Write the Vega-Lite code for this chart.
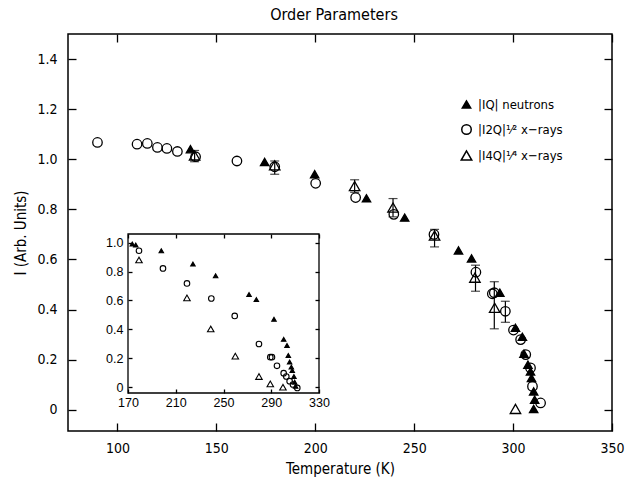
{
  "$schema": "https://vega.github.io/schema/vega-lite/v6.json",
  "width": 544,
  "height": 397,
  "autosize": "none",
  "padding": {"left": 68, "top": 34, "right": 25, "bottom": 53},
  "background": "white",
  "config": {
    "font": "Liberation Sans Narrow, DejaVu Sans Condensed, sans-serif",
    "view": {"stroke": "black", "strokeWidth": 1.5},
    "axis": {"grid": false, "domain": false, "ticks": true, "tickColor": "black", "tickWidth": 1.3, "labelColor": "black", "titleColor": "black", "titleFontWeight": "normal"}
  },
  "title": {"text": "Order Parameters", "fontSize": 16, "fontWeight": "normal", "offset": 10, "color": "black", "dx": -6, "frame": "group"},
  "datasets": {
    "main": [
      {"T": 136.9, "I": 1.04, "s": "n"},
      {"T": 174.4, "I": 0.989, "s": "n"},
      {"T": 199.7, "I": 0.94, "s": "n"},
      {"T": 225.9, "I": 0.844, "s": "n"},
      {"T": 245.2, "I": 0.767, "s": "n"},
      {"T": 272.4, "I": 0.636, "s": "n"},
      {"T": 279.0, "I": 0.604, "s": "n"},
      {"T": 293.3, "I": 0.467, "s": "n"},
      {"T": 301.2, "I": 0.327, "s": "n"},
      {"T": 304.7, "I": 0.291, "s": "n"},
      {"T": 305.5, "I": 0.224, "s": "n"},
      {"T": 307.5, "I": 0.18, "s": "n"},
      {"T": 308.8, "I": 0.153, "s": "n"},
      {"T": 309.3, "I": 0.127, "s": "n"},
      {"T": 310.4, "I": 0.073, "s": "n"},
      {"T": 310.9, "I": 0.04, "s": "n"},
      {"T": 310.4, "I": 0.003, "s": "n"},
      {"T": 89.9, "I": 1.067, "s": "x2"},
      {"T": 109.9, "I": 1.06, "s": "x2"},
      {"T": 115.1, "I": 1.063, "s": "x2"},
      {"T": 120.2, "I": 1.047, "s": "x2"},
      {"T": 125.0, "I": 1.043, "s": "x2"},
      {"T": 130.3, "I": 1.031, "s": "x2"},
      {"T": 139.5, "I": 1.01, "s": "x2"},
      {"T": 160.4, "I": 0.993, "s": "x2"},
      {"T": 179.5, "I": 0.97, "s": "x2"},
      {"T": 200.2, "I": 0.904, "s": "x2"},
      {"T": 220.4, "I": 0.847, "s": "x2"},
      {"T": 239.7, "I": 0.78, "s": "x2"},
      {"T": 260.0, "I": 0.7, "s": "x2"},
      {"T": 281.2, "I": 0.549, "s": "x2"},
      {"T": 289.5, "I": 0.463, "s": "x2"},
      {"T": 290.5, "I": 0.467, "s": "x2"},
      {"T": 296.1, "I": 0.393, "s": "x2"},
      {"T": 300.2, "I": 0.318, "s": "x2"},
      {"T": 303.8, "I": 0.28, "s": "x2"},
      {"T": 306.4, "I": 0.22, "s": "x2"},
      {"T": 308.8, "I": 0.167, "s": "x2"},
      {"T": 309.8, "I": 0.093, "s": "x2"},
      {"T": 313.9, "I": 0.027, "s": "x2"},
      {"T": 139.0, "I": 1.015, "s": "x4"},
      {"T": 179.5, "I": 0.976, "s": "x4"},
      {"T": 219.9, "I": 0.893, "s": "x4"},
      {"T": 239.3, "I": 0.807, "s": "x4"},
      {"T": 260.3, "I": 0.695, "s": "x4"},
      {"T": 280.7, "I": 0.527, "s": "x4"},
      {"T": 290.7, "I": 0.407, "s": "x4"},
      {"T": 301.2, "I": 0.003, "s": "x4"}
    ],
    "err": [
      {"T": 139.0, "lo": 0.99, "hi": 1.035},
      {"T": 179.5, "lo": 0.94, "hi": 0.993},
      {"T": 219.9, "lo": 0.868, "hi": 0.918},
      {"T": 239.3, "lo": 0.77, "hi": 0.843},
      {"T": 260.3, "lo": 0.65, "hi": 0.72},
      {"T": 281.0, "lo": 0.473, "hi": 0.577},
      {"T": 290.5, "lo": 0.323, "hi": 0.511},
      {"T": 296.1, "lo": 0.349, "hi": 0.433}
    ],
    "inset": [
      {"T": 173.6, "I": 0.991, "s": "n"},
      {"T": 176.5, "I": 0.984, "s": "n"},
      {"T": 197.9, "I": 0.944, "s": "n"},
      {"T": 224.4, "I": 0.852, "s": "n"},
      {"T": 243.4, "I": 0.771, "s": "n"},
      {"T": 271.4, "I": 0.641, "s": "n"},
      {"T": 277.5, "I": 0.606, "s": "n"},
      {"T": 292.3, "I": 0.47, "s": "n"},
      {"T": 300.4, "I": 0.331, "s": "n"},
      {"T": 303.2, "I": 0.289, "s": "n"},
      {"T": 304.3, "I": 0.22, "s": "n"},
      {"T": 305.4, "I": 0.174, "s": "n"},
      {"T": 306.8, "I": 0.139, "s": "n"},
      {"T": 307.6, "I": 0.116, "s": "n"},
      {"T": 309.0, "I": 0.074, "s": "n"},
      {"T": 309.6, "I": 0.035, "s": "n"},
      {"T": 310.4, "I": 0.007, "s": "n"},
      {"T": 179.2, "I": 0.944, "s": "x2"},
      {"T": 199.3, "I": 0.822, "s": "x2"},
      {"T": 219.4, "I": 0.718, "s": "x2"},
      {"T": 239.8, "I": 0.614, "s": "x2"},
      {"T": 259.4, "I": 0.493, "s": "x2"},
      {"T": 279.7, "I": 0.299, "s": "x2"},
      {"T": 289.2, "I": 0.208, "s": "x2"},
      {"T": 290.6, "I": 0.208, "s": "x2"},
      {"T": 294.8, "I": 0.148, "s": "x2"},
      {"T": 300.4, "I": 0.097, "s": "x2"},
      {"T": 302.6, "I": 0.074, "s": "x2"},
      {"T": 305.4, "I": 0.042, "s": "x2"},
      {"T": 308.2, "I": 0.019, "s": "x2"},
      {"T": 311.8, "I": -0.005, "s": "x2"},
      {"T": 179.2, "I": 0.88, "s": "x4"},
      {"T": 219.4, "I": 0.618, "s": "x4"},
      {"T": 239.3, "I": 0.403, "s": "x4"},
      {"T": 259.9, "I": 0.215, "s": "x4"},
      {"T": 279.7, "I": 0.074, "s": "x4"},
      {"T": 289.2, "I": 0.023, "s": "x4"},
      {"T": 299.8, "I": 0.0, "s": "x4"}
    ]
  },
  "layer": [
    {
      "layer": [
        {
          "data": {"name": "err"},
          "mark": {"type": "rule", "color": "black", "strokeWidth": 1.2},
          "encoding": {
            "x": {"field": "T", "type": "quantitative", "scale": {"domain": [75, 350], "nice": false, "zero": false}, "axis": null},
            "y": {"field": "lo", "type": "quantitative", "scale": {"domain": [-0.085, 1.5], "nice": false, "zero": false}, "axis": null},
            "y2": {"field": "hi"}
          }
        },
        {
          "data": {"name": "err"},
          "mark": {"type": "tick", "orient": "horizontal", "color": "black", "size": 9, "thickness": 1.2},
          "encoding": {
            "x": {"field": "T", "type": "quantitative", "axis": null},
            "y": {"field": "lo", "type": "quantitative", "axis": null}
          }
        },
        {
          "data": {"name": "err"},
          "mark": {"type": "tick", "orient": "horizontal", "color": "black", "size": 9, "thickness": 1.2},
          "encoding": {
            "x": {"field": "T", "type": "quantitative", "axis": null},
            "y": {"field": "hi", "type": "quantitative", "axis": null}
          }
        },
        {
          "data": {"name": "main"},
          "mark": {"type": "point", "filled": true, "stroke": "black", "strokeWidth": 1.3, "opacity": 1},
          "encoding": {
            "x": {"field": "T", "type": "quantitative", "scale": {"domain": [75, 350], "nice": false, "zero": false},
              "axis": {"orient": "bottom", "values": [100, 150, 200, 250, 300, 350], "tickSize": -8, "labelPadding": 18, "labelFontSize": 14, "labelFlush": false, "title": "Temperature (K)", "titleFontSize": 15, "titlePadding": 6}},
            "y": {"field": "I", "type": "quantitative", "scale": {"domain": [-0.085, 1.5], "nice": false, "zero": false},
              "axis": {"orient": "left", "values": [0, 0.2, 0.4, 0.6, 0.8, 1.0, 1.2, 1.4], "tickSize": -8, "labelPadding": 19, "labelFontSize": 14, "labelFlush": false, "labelExpr": "datum.value == 0 ? '0' : format(datum.value, '.1f')", "title": "I (Arb. Units)", "titleFontSize": 15, "titlePadding": 8}},
            "shape": {"field": "s", "type": "nominal", "scale": {"domain": ["n", "x2", "x4"], "range": ["triangle-up", "circle", "triangle-up"]},
              "legend": {"orient": "none", "legendX": 392, "legendY": 64, "title": null, "padding": 0, "rowPadding": 9, "labelOffset": 5, "labelFontSize": 13, "labelColor": "black",
                "labelExpr": "datum.value == 'n' ? '|IQ|  neutrons' : datum.value == 'x2' ? '|I2Q|¹⁄²  x−rays' : '|I4Q|¹⁄⁴  x−rays'",
                "encode": {"symbols": {"update": {
                  "fill": {"signal": "datum.value == 'n' ? 'black' : 'transparent'"},
                  "stroke": {"value": "black"},
                  "strokeWidth": {"value": 1.3},
                  "size": {"signal": "datum.value == 'n' ? 70 : 115"},
                  "opacity": {"value": 1}
                }}, "labels": {"update": {"fill": {"value": "black"}}}}}},
            "fill": {"field": "s", "type": "nominal", "scale": {"domain": ["n", "x2", "x4"], "range": ["black", "transparent", "transparent"]},
              "legend": {"orient": "none", "legendX": 392, "legendY": 64, "title": null, "padding": 0, "rowPadding": 9, "labelOffset": 5, "labelFontSize": 13, "labelColor": "black",
                "labelExpr": "datum.value == 'n' ? '|IQ|  neutrons' : datum.value == 'x2' ? '|I2Q|¹⁄²  x−rays' : '|I4Q|¹⁄⁴  x−rays'",
                "encode": {"symbols": {"update": {
                  "fill": {"signal": "datum.value == 'n' ? 'black' : 'transparent'"},
                  "stroke": {"value": "black"},
                  "strokeWidth": {"value": 1.3},
                  "size": {"signal": "datum.value == 'n' ? 70 : 115"},
                  "opacity": {"value": 1}
                }}, "labels": {"update": {"fill": {"value": "black"}}}}}},
            "size": {"field": "s", "type": "nominal", "scale": {"domain": ["n", "x2", "x4"], "range": [70, 110, 130]},
              "legend": {"orient": "none", "legendX": 392, "legendY": 64, "title": null, "padding": 0, "rowPadding": 9, "labelOffset": 5, "labelFontSize": 13, "labelColor": "black",
                "labelExpr": "datum.value == 'n' ? '|IQ|  neutrons' : datum.value == 'x2' ? '|I2Q|¹⁄²  x−rays' : '|I4Q|¹⁄⁴  x−rays'",
                "encode": {"symbols": {"update": {
                  "fill": {"signal": "datum.value == 'n' ? 'black' : 'transparent'"},
                  "stroke": {"value": "black"},
                  "strokeWidth": {"value": 1.3},
                  "size": {"signal": "datum.value == 'n' ? 70 : 115"},
                  "opacity": {"value": 1}
                }}, "labels": {"update": {"fill": {"value": "black"}}}}}}
          }
        },
        {
          "data": {"name": "main"},
          "mark": {"type": "point", "opacity": 0},
          "encoding": {
            "x": {"field": "T", "type": "quantitative", "axis": {"orient": "top", "values": [100, 150, 200, 250, 300, 350], "tickSize": -8, "labels": false, "title": null}},
            "y": {"field": "I", "type": "quantitative", "axis": {"orient": "right", "values": [0, 0.2, 0.4, 0.6, 0.8, 1.0, 1.2, 1.4], "tickSize": -8, "labels": false, "title": null}}
          }
        }
      ],
      "resolve": {"axis": {"x": "independent", "y": "independent"}}
    },
    {
      "layer": [
        {
          "data": {"values": [{"id": 1}]},
          "mark": {"type": "rect", "fill": "transparent", "stroke": "black", "strokeWidth": 1.3},
          "encoding": {
            "x": {"datum": 170, "type": "quantitative", "scale": {"domain": [170, 330], "range": [60, 251], "nice": false, "zero": false}, "axis": null},
            "x2": {"datum": 330},
            "y": {"datum": -0.04, "type": "quantitative", "scale": {"domain": [-0.04, 1.06], "range": [359, 200], "nice": false, "zero": false}, "axis": null},
            "y2": {"datum": 1.06}
          }
        },
        {
          "data": {"name": "inset"},
          "mark": {"type": "point", "filled": true, "stroke": "black", "strokeWidth": 1.1, "opacity": 1},
          "encoding": {
            "x": {"field": "T", "type": "quantitative",
              "axis": {"orient": "bottom", "offset": -38, "values": [170, 210, 250, 290, 330], "tickSize": -4, "labelPadding": 7, "labelFontSize": 12.5, "labelFont": "Liberation Sans, Arial, sans-serif", "labelFlush": false, "title": null}},
            "y": {"field": "I", "type": "quantitative",
              "axis": {"orient": "left", "offset": -60, "values": [0, 0.2, 0.4, 0.6, 0.8, 1.0], "tickSize": -4, "labelPadding": 9, "labelFontSize": 12.5, "labelFont": "Liberation Sans, Arial, sans-serif", "labelFlush": false, "labelExpr": "datum.value == 0 ? '0' : format(datum.value, '.1f')", "title": null}},
            "shape": {"field": "s", "type": "nominal", "scale": {"domain": ["n", "x2", "x4"], "range": ["triangle-up", "circle", "triangle-up"]}, "legend": null},
            "fill": {"field": "s", "type": "nominal", "scale": {"domain": ["n", "x2", "x4"], "range": ["black", "transparent", "transparent"]}, "legend": null},
            "size": {"field": "s", "type": "nominal", "scale": {"domain": ["n", "x2", "x4"], "range": [20, 42, 48]}, "legend": null}
          }
        },
        {
          "data": {"name": "inset"},
          "mark": {"type": "point", "opacity": 0},
          "encoding": {
            "x": {"field": "T", "type": "quantitative", "axis": {"orient": "top", "offset": -200, "values": [170, 210, 250, 290, 330], "tickSize": -4, "labels": false, "title": null}},
            "y": {"field": "I", "type": "quantitative", "axis": {"orient": "right", "offset": -293, "values": [0, 0.2, 0.4, 0.6, 0.8, 1.0], "tickSize": -4, "labels": false, "title": null}}
          }
        }
      ],
      "resolve": {"axis": {"x": "independent", "y": "independent"}}
    }
  ],
  "resolve": {"scale": {"x": "independent", "y": "independent", "shape": "independent", "fill": "independent", "size": "independent"}}
}
